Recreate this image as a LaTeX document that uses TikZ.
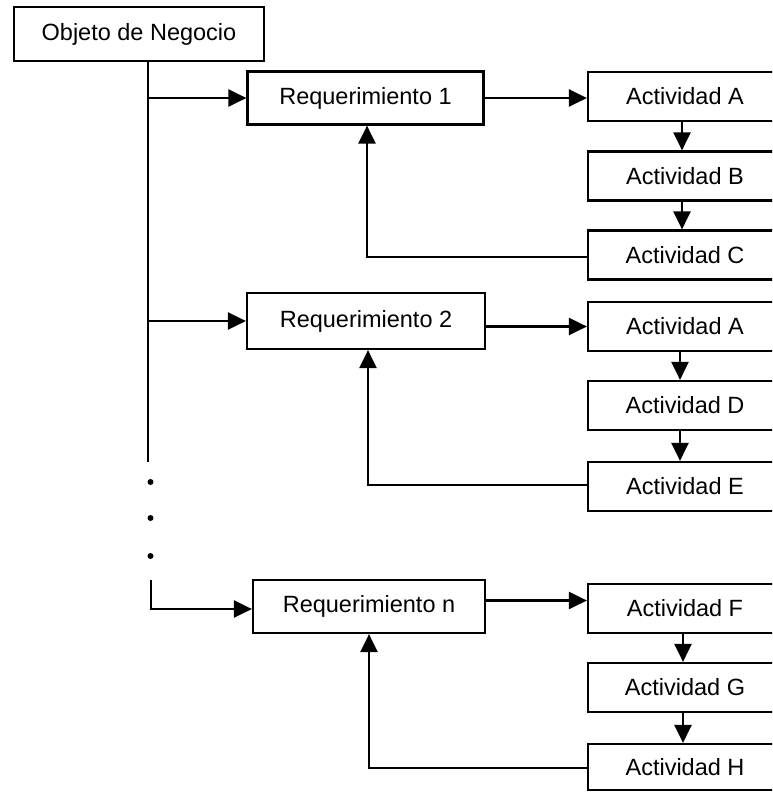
\documentclass[tikz,border=0pt]{standalone}
\usepackage{fontspec}
\setmainfont{Liberation Sans}
\usetikzlibrary{arrows.meta}

\begin{document}
\begin{tikzpicture}[x=1pt, y=-1pt,
  box/.style={draw, line width=2.2pt, inner sep=0pt, align=center,
              font=\fontsize{23.5}{28}\selectfont},
  objbox/.style={box, minimum width=250pt, minimum height=54pt},
  reqbox/.style={box, minimum width=236pt, minimum height=53pt},
  actbox/.style={box, minimum width=194pt, minimum height=49pt},
  link/.style={line width=2.6pt},
  arr/.style={link, -{Triangle[length=18pt, width=17pt]}},
  dotmark/.style={circle, fill, inner sep=0pt, minimum size=6pt}
]
\useasboundingbox (0,0) rectangle (772,793);
\clip (0,0) rectangle (772,793);

% root object
\node[objbox] (obj) at (139,34) {Objeto de Negocio};

% requirement boxes
\node[reqbox] (req1) at (365.5,98)  {Requerimiento 1};
\node[reqbox, minimum width=238pt, minimum height=56pt] (req2) at (366,321) {Requerimiento 2};
\node[reqbox, minimum width=232pt] (reqn) at (369,606.5) {Requerimiento n};

% activity chains (their right side runs past the page edge)
\node[actbox] (a1) at (685,96.5)  {Actividad A};
\node[actbox] (b1) at (685,176)   {Actividad B};
\node[actbox] (c1) at (685,255)   {Actividad C};

\node[actbox] (a2) at (685,326.5) {Actividad A};
\node[actbox] (d2) at (685,405.5) {Actividad D};
\node[actbox] (e2) at (685,486.5) {Actividad E};

\node[actbox] (f3) at (685,608.5) {Actividad F};
\node[actbox] (g3) at (685,687.5) {Actividad G};
\node[actbox, minimum height=46pt] (h3) at (685,767) {Actividad H};

% trunk from the business object
\coordinate (trunkend) at (148,462);
\coordinate (lastbranch) at (151,580);
\draw[link] (obj.south -| trunkend) -- (trunkend);
\draw[arr] (trunkend |- req1.west) -- (req1.west);
\draw[arr] (trunkend |- req2.west) -- (req2.west);
\node[dotmark] (dot1) at (150.5,482) {};
\node[dotmark] (dot2) at (150.5,518) {};
\node[dotmark] (dot3) at (150.5,556) {};
\draw[arr] (lastbranch) |- ([yshift=-2.5pt]reqn.west);

% requirement to first activity
\draw[arr] (req1.east) -- (req1.east -| a1.west);
\draw[arr] (req2.east |- a2.west) -- (a2.west);
\draw[arr] ([yshift=6pt]reqn.east) -- ([yshift=6pt]reqn.east -| f3.west);

% activity sequences
\draw[arr] ([xshift=-3pt]a1.south) -- ([xshift=-3pt]b1.north);
\draw[arr] ([xshift=-3pt]b1.south) -- ([xshift=-3pt]c1.north);
\draw[arr] ([xshift=-5pt]a2.south) -- ([xshift=-5pt]d2.north);
\draw[arr] ([xshift=-5pt]d2.south) -- ([xshift=-5pt]e2.north);
\draw[arr] ([xshift=-2pt]f3.south) -- ([xshift=-2pt]g3.north);
\draw[arr] ([xshift=-2pt]g3.south) -- ([xshift=-2pt]h3.north);

% feedback from last activity to its requirement
\draw[arr] ([yshift=-2pt]c1.west) -| ([xshift=1.5pt]req1.south);
\draw[arr] ([yshift=1.5pt]e2.west) -| ([xshift=2pt]req2.south);
\draw[arr] ([yshift=-1pt]h3.west) -| (reqn.south);
\end{tikzpicture}
\end{document}
